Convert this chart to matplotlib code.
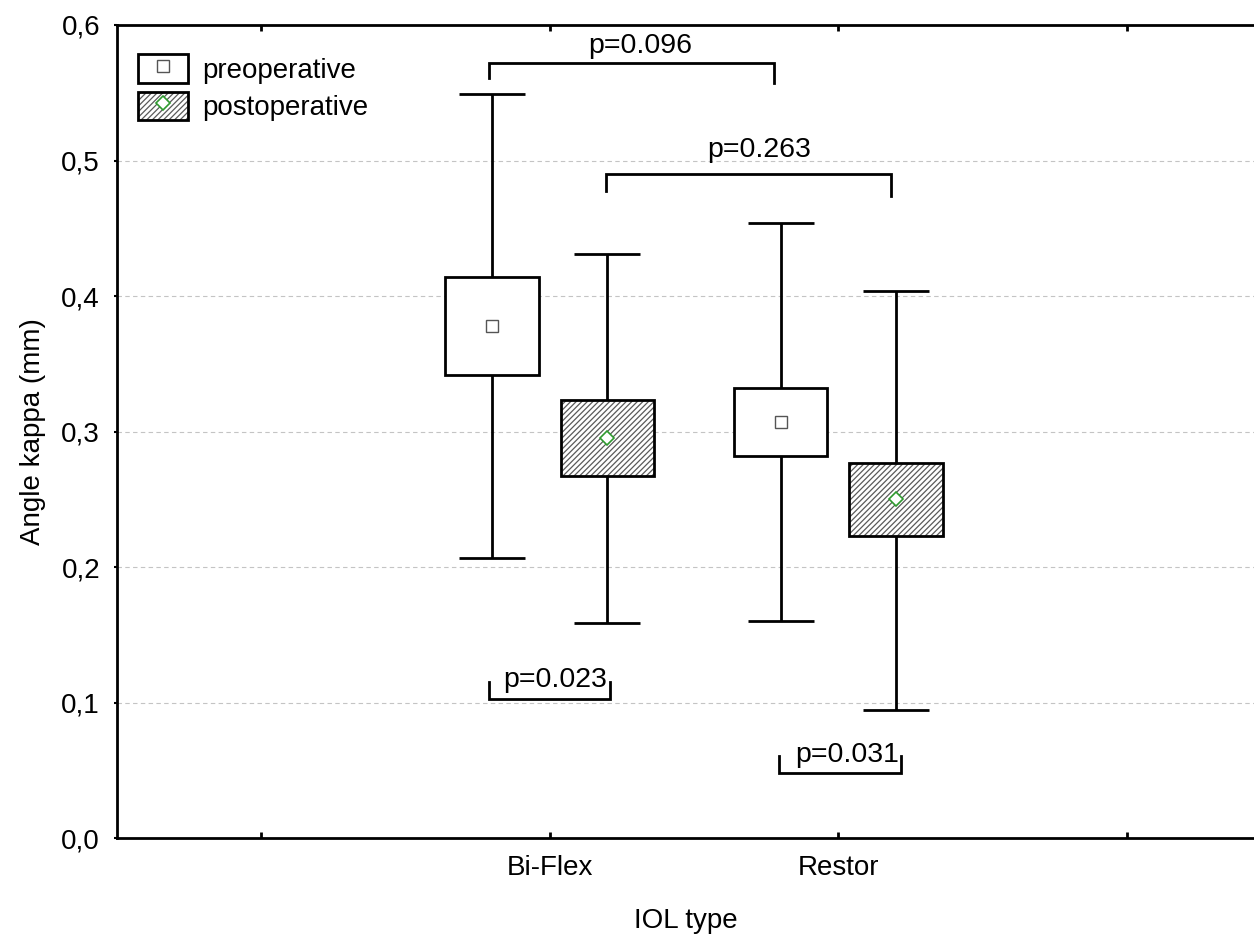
import matplotlib
matplotlib.use('Agg')
import matplotlib.pyplot as plt
from matplotlib.patches import Patch
from matplotlib.lines import Line2D
from matplotlib.ticker import FuncFormatter

plt.rcParams['font.family'] = ['Liberation Sans', 'DejaVu Sans']
plt.rcParams['font.size'] = 20
plt.rcParams['hatch.linewidth'] = 0.9

# IOL groups
groups = ['Bi-Flex', 'Restor']
xpos = [1, 2]

# mean, box (mean +/- SE), whiskers (mean +/- 1.96 SD)
pre_mean = [0.378, 0.307]
pre_box_lo = [0.342, 0.282]
pre_box_hi = [0.414, 0.332]
pre_wh_lo = [0.207, 0.160]
pre_wh_hi = [0.549, 0.454]

post_mean = [0.295, 0.250]
post_box_lo = [0.267, 0.223]
post_box_hi = [0.323, 0.277]
post_wh_lo = [0.159, 0.095]
post_wh_hi = [0.431, 0.404]

# comparison brackets: (x0, x1, y of bar, left leg end, right leg end, label, text x, text y)
br_x0 = [0.79, 1.196, 0.791, 1.794]
br_x1 = [1.777, 2.183, 1.210, 2.216]
br_y = [0.5722, 0.4899, 0.1030, 0.0480]
br_leg0 = [0.5607, 0.4774, 0.1153, 0.0607]
br_leg1 = [0.5570, 0.4737, 0.1153, 0.0607]
br_label = ['p=0.096', 'p=0.263', 'p=0.023', 'p=0.031']
br_tx = [1.315, 1.726, 1.018, 2.029]
br_ty = [0.5793, 0.5028, 0.1118, 0.0561]

off = 0.2
box_w = 0.323
lw = 2
hatch_col = '#5a5a5a'
green = '#2e9a2e'

fig = plt.figure(figsize=(12.54, 9.43), dpi=100)
ax = fig.add_axes([0.0931, 0.1110, 0.9069, 0.8625])

# Grid
ax.set_axisbelow(True)
ax.grid(which='major', axis='y', linestyle=(0, (4, 3)), color='#c4c4c4',
        linewidth=0.8)

xs_pre = [x - off for x in xpos]
xs_post = [x + off for x in xpos]

# whiskers
for xs, m, lo, hi in [(xs_pre, pre_mean, pre_wh_lo, pre_wh_hi),
                      (xs_post, post_mean, post_wh_lo, post_wh_hi)]:
    err = [[a - b for a, b in zip(m, lo)], [b - a for a, b in zip(m, hi)]]
    ax.errorbar(xs, m, yerr=err, fmt='none', ecolor='black', elinewidth=lw,
                capsize=23.8, capthick=lw, zorder=2)

# boxes
ax.bar(xs_pre, [h - l for h, l in zip(pre_box_hi, pre_box_lo)], box_w,
       bottom=pre_box_lo, color='white', edgecolor='black', linewidth=lw,
       zorder=3)
ax.bar(xs_post, [h - l for h, l in zip(post_box_hi, post_box_lo)], box_w,
       bottom=post_box_lo, color='white', edgecolor=hatch_col, linewidth=0,
       hatch='//////', zorder=3)
ax.bar(xs_post, [h - l for h, l in zip(post_box_hi, post_box_lo)], box_w,
       bottom=post_box_lo, fill=False, edgecolor='black', linewidth=lw,
       zorder=4)

# means
ax.plot(xs_pre, pre_mean, 's', ms=8, mfc='white', mec='#555555', mew=1.0,
        zorder=5)
ax.plot(xs_post, post_mean, 'D', ms=7.5, mfc='white', mec=green, mew=1.2,
        zorder=5)

# brackets with p values
for i in range(len(br_label)):
    x0, x1, y = br_x0[i], br_x1[i], br_y[i]
    ax.plot([x0, x0, x1, x1], [br_leg0[i], y, y, br_leg1[i]], color='black',
            linewidth=lw, solid_joinstyle='miter', zorder=4)
    ax.text(br_tx[i], br_ty[i], br_label[i], ha='center', va='baseline',
            fontsize=20.5, zorder=6)

# axes
ax.set_xlim(-0.5, 3.44)
ax.set_ylim(0, 0.6)
ax.set_xticks([0, 1, 2, 3])
ax.set_xticklabels(['', groups[0], groups[1], ''])
ax.set_yticks([0, 0.1, 0.2, 0.3, 0.4, 0.5, 0.6])
ax.yaxis.set_major_formatter(FuncFormatter(lambda v, p: ('%.1f' % v).replace('.', ',')))

ax.spines['right'].set_visible(False)
for s in ['left', 'top', 'bottom']:
    ax.spines[s].set_linewidth(lw)

ax.tick_params(axis='x', direction='in', length=4.3, width=lw, top=True,
               pad=12, labelsize=20)
ax.tick_params(axis='y', direction='out', length=2, width=1.5, pad=10,
               labelsize=20)

ax.set_ylabel('Angle kappa (mm)', fontsize=20)
ax.yaxis.set_label_coords(-0.0621, 0.5)
ax.set_xlabel('IOL type', fontsize=20)
ax.xaxis.set_label_coords(0.5, -0.0857)

# legend
h_pre = (Patch(facecolor='white', edgecolor='black', linewidth=lw),
         Line2D([], [], marker='s', ls='none', ms=8, mfc='white',
                mec='#555555', mew=1.0))
h_post = (Patch(facecolor='white', edgecolor=hatch_col, linewidth=0,
                hatch='//////'),
          Patch(fill=False, edgecolor='black', linewidth=lw),
          Line2D([], [], marker='D', ls='none', ms=7.5, mfc='white',
                 mec=green, mew=1.2))
ax.legend([h_pre, h_post], ['preoperative', 'postoperative'],
          loc='upper left', bbox_to_anchor=(0.0187, 0.964), borderpad=0,
          borderaxespad=0, frameon=False, handlelength=1.8,
          handleheight=1.2, labelspacing=0.28, handletextpad=0.5,
          fontsize=20)

plt.savefig('out.png', dpi=100)
